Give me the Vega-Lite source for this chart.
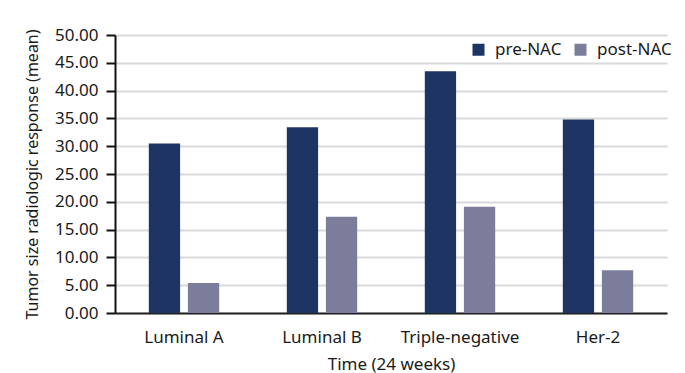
{
  "$schema": "https://vega.github.io/schema/vega-lite/v6.json",
  "width": 552,
  "height": 278,
  "autosize": "none",
  "padding": {"left": 115, "top": 35, "right": 18, "bottom": 60},
  "background": "white",
  "data": {
    "values": [
      {"subtype": "Luminal A", "group": "pre-NAC", "value": 30.5},
      {"subtype": "Luminal A", "group": "post-NAC", "value": 5.4},
      {"subtype": "Luminal B", "group": "pre-NAC", "value": 33.4},
      {"subtype": "Luminal B", "group": "post-NAC", "value": 17.3},
      {"subtype": "Triple-negative", "group": "pre-NAC", "value": 43.5},
      {"subtype": "Triple-negative", "group": "post-NAC", "value": 19.1},
      {"subtype": "Her-2", "group": "pre-NAC", "value": 34.8},
      {"subtype": "Her-2", "group": "post-NAC", "value": 7.7}
    ]
  },
  "mark": {"type": "bar"},
  "encoding": {
    "x": {
      "field": "subtype",
      "type": "nominal",
      "sort": ["Luminal A", "Luminal B", "Triple-negative", "Her-2"],
      "scale": {"paddingInner": 0.49, "paddingOuter": 0.245},
      "axis": {
        "title": "Time (24 weeks)",
        "labelAngle": 0,
        "ticks": false,
        "domainColor": "#222222",
        "domainWidth": 2,
        "labelPadding": 16,
        "titlePadding": 11
      }
    },
    "xOffset": {
      "field": "group",
      "type": "nominal",
      "sort": ["pre-NAC", "post-NAC"],
      "scale": {"paddingInner": 0.2, "paddingOuter": 0}
    },
    "y": {
      "field": "value",
      "type": "quantitative",
      "scale": {"domain": [0, 50]},
      "axis": {
        "title": "Tumor size radiologic response (mean)",
        "values": [0, 5, 10, 15, 20, 25, 30, 35, 40, 45, 50],
        "format": ".2f",
        "tickSize": 9,
        "tickWidth": 2,
        "tickColor": "#111111",
        "domainColor": "#111111",
        "domainWidth": 2,
        "labelPadding": 8,
        "gridColor": "#d9d9d9",
        "gridWidth": 2,
        "titleFontSize": 16,
        "titleX": -78,
        "titleBaseline": "alphabetic"
      }
    },
    "color": {
      "field": "group",
      "type": "nominal",
      "sort": ["pre-NAC", "post-NAC"],
      "scale": {"domain": ["pre-NAC", "post-NAC"], "range": ["#1e3564", "#7c7c9b"]},
      "legend": {
        "title": null,
        "orient": "none",
        "direction": "horizontal",
        "legendX": 355,
        "legendY": 6,
        "symbolType": "square",
        "symbolSize": 144,
        "symbolStrokeWidth": 0,
        "labelOffset": 8,
        "columnPadding": 10,
        "labelFontSize": 17
      }
    }
  },
  "config": {
    "font": "Noto Sans",
    "view": {"stroke": null},
    "axis": {
      "labelFont": "Noto Sans",
      "titleFont": "Noto Sans",
      "labelFontSize": 17,
      "titleFontSize": 17,
      "labelColor": "#1a1a1a",
      "titleColor": "#1a1a1a",
      "titleFontWeight": "normal"
    },
    "legend": {"labelFont": "Noto Sans", "labelColor": "#1a1a1a"}
  }
}
